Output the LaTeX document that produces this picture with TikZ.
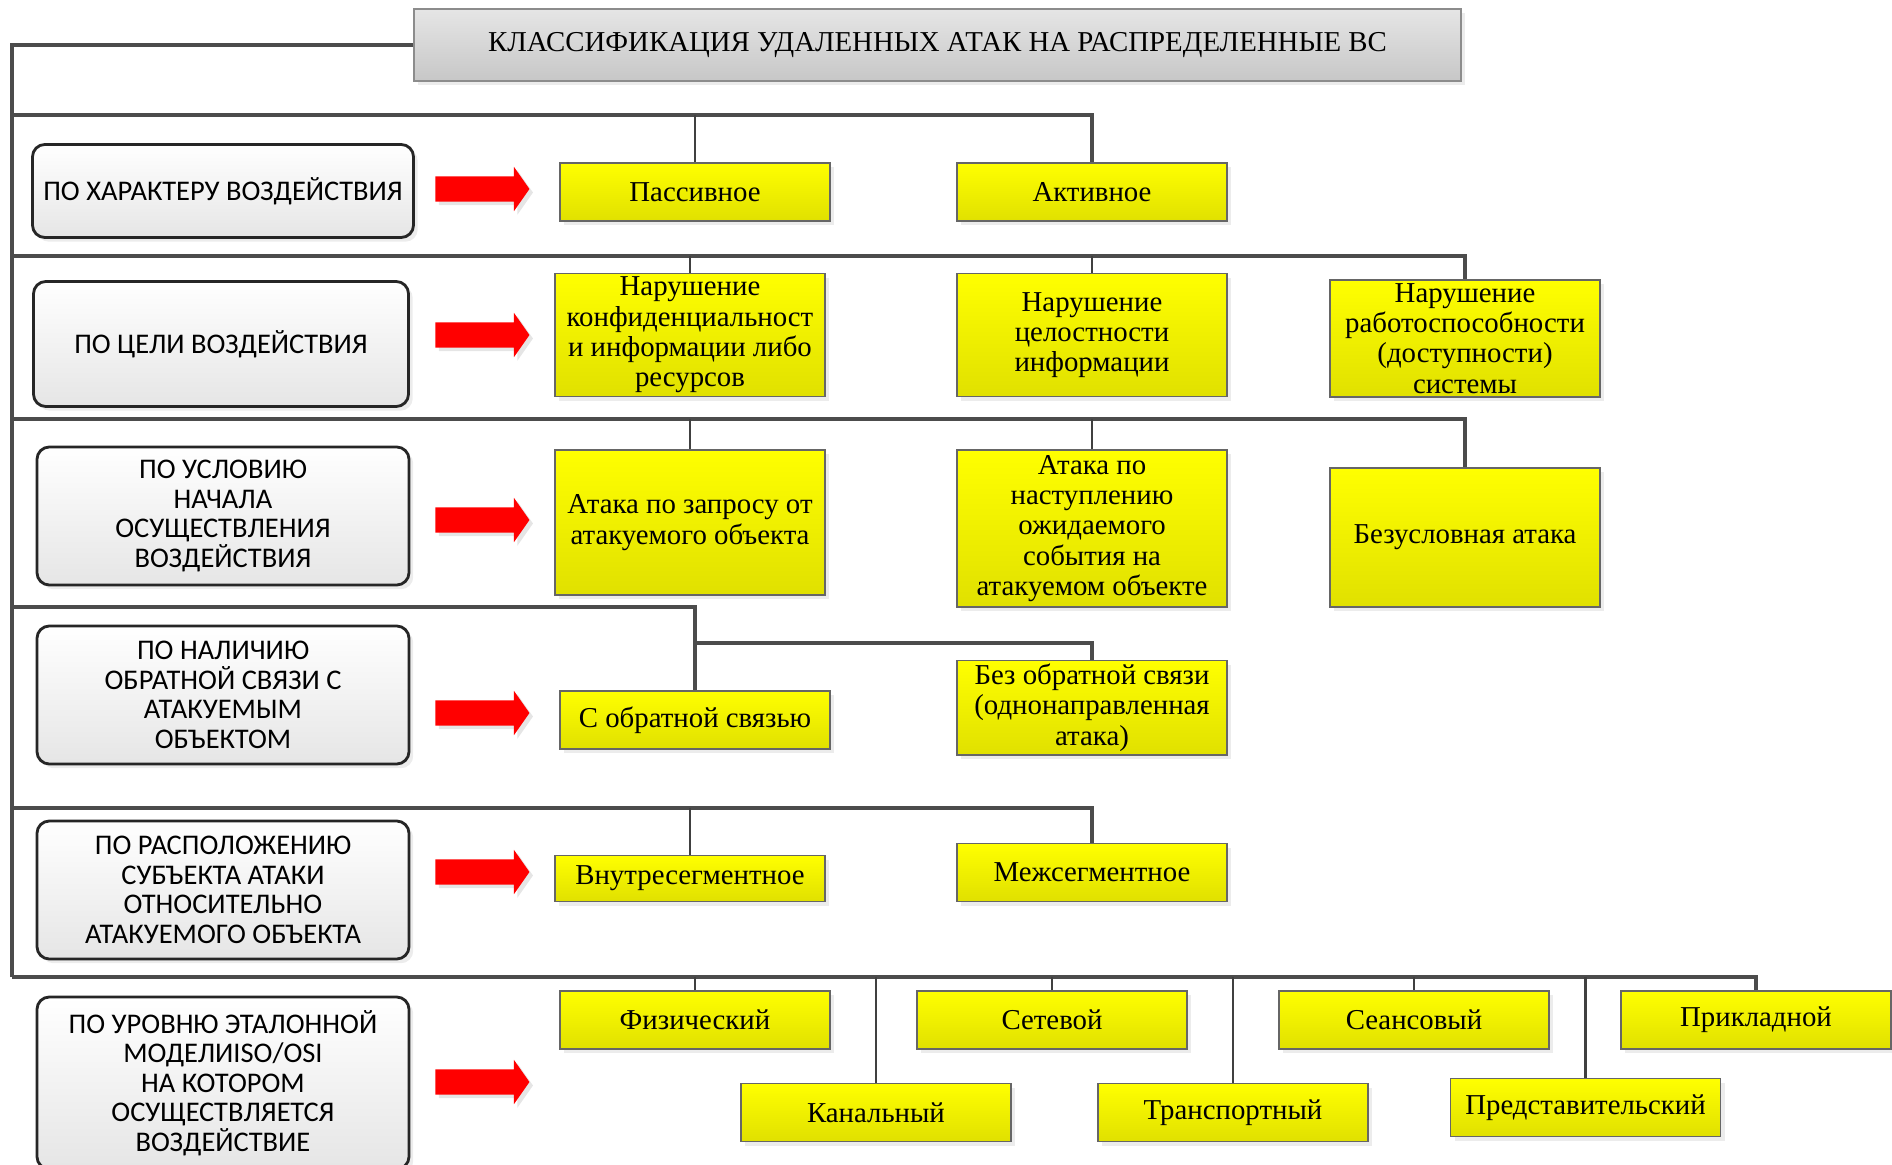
\documentclass[tikz,border=0pt]{standalone}
\usepackage{fontspec}
\setmainfont{Liberation Serif}
\newfontfamily\karlito{Carlito}
\usetikzlibrary{shapes.arrows,shadows,positioning}
\tikzset{
  zagolovok/.style={draw=black!45,top color=black!10,bottom color=black!22,
                    minimum width=10.47cm,minimum height=0.72cm,inner sep=2pt,
                    font=\fontsize{8.2}{9.6}\selectfont,
                    drop shadow={shadow xshift=1.2pt,shadow yshift=-1.2pt,fill=black!15}},
  priznak/.style={draw=black!85,line width=0.8pt,rounded corners=3.5pt,
                  top color=white,bottom color=black!10,
                  minimum width=3.72cm,minimum height=1.38cm,align=center,inner sep=2pt,
                  font=\karlito\fontsize{8.1}{8.4}\selectfont,
                  drop shadow={shadow xshift=1.2pt,shadow yshift=-1.2pt,fill=black!15}},
  vid/.style={draw=black!60,line width=0.4pt,top color=yellow,bottom color=yellow!88!black,
              minimum width=2.70cm,minimum height=0.58cm,align=center,inner sep=1pt,
              font=\fontsize{8.2}{8.6}\selectfont,
              drop shadow={shadow xshift=1.2pt,shadow yshift=-1.2pt,fill=black!15}},
  strelka/.style={single arrow,fill=red,draw=none,minimum height=0.94cm,
                  inner xsep=0pt,inner ysep=0.12cm,single arrow head extend=0.095cm,
                  single arrow tip angle=110,
                  drop shadow={shadow xshift=1pt,shadow yshift=-1pt,fill=black!20}},
  shina/.style={draw=black!70,line width=0.9pt},
  otvod/.style={draw=black!75,line width=0.6pt},
}
\begin{document}
\begin{tikzpicture}
  \useasboundingbox (0,0) rectangle (18.92,-11.64);
  % zagolovok
  \node[zagolovok] (klass) at (9.375,-0.45) {КЛАССИФИКАЦИЯ УДАЛЕННЫХ АТАК НА РАСПРЕДЕЛЕННЫЕ ВС};
  % priznaki klassifikacii
  \node[priznak,minimum width=3.81cm,minimum height=0.93cm] (p1) at (2.23,-1.91) {ПО ХАРАКТЕРУ ВОЗДЕЙСТВИЯ};
  \node[priznak,minimum width=3.75cm,minimum height=1.25cm] (p2) at (2.21,-3.44) {ПО ЦЕЛИ ВОЗДЕЙСТВИЯ};
  \node[priznak] (p3) at (2.23,-5.16) {ПО УСЛОВИЮ\\НАЧАЛА\\ОСУЩЕСТВЛЕНИЯ\\ВОЗДЕЙСТВИЯ};
  \node[priznak] (p4) at (2.23,-6.95) {ПО НАЛИЧИЮ\\ОБРАТНОЙ СВЯЗИ С\\АТАКУЕМЫМ\\ОБЪЕКТОМ};
  \node[priznak] (p5) at (2.23,-8.90) {ПО РАСПОЛОЖЕНИЮ\\СУБЪЕКТА АТАКИ\\ОТНОСИТЕЛЬНО\\АТАКУЕМОГО ОБЪЕКТА};
  \node[priznak,minimum height=1.72cm] (p6) at (2.23,-10.83) {ПО УРОВНЮ ЭТАЛОННОЙ\\МОДЕЛИISO/OSI\\НА КОТОРОМ\\ОСУЩЕСТВЛЯЕТСЯ\\ВОЗДЕЙСТВИЕ};
  % strelki
  \foreach \y [count=\i] in {1.89,3.35,5.20,7.13,8.72,10.82}
    \node[strelka] (s\i) at (4.78,-\y) {};
  % vidy atak
  \node[vid] (passiv) at (6.95,-1.92) {Пассивное};
  \node[vid] (aktiv) at (10.92,-1.92) {Активное};
  \node[vid,minimum height=1.23cm] (konf) at (6.90,-3.35) {Нарушение\\конфиденциальност\\и информации либо\\ресурсов};
  \node[vid,minimum height=1.23cm] (cel) at (10.92,-3.35) {Нарушение\\целостности\\информации};
  \node[vid,minimum height=1.17cm] (rabot) at (14.65,-3.385) {Нарушение\\работоспособности\\(доступности)\\системы};
  \node[vid,minimum height=1.45cm] (zapros) at (6.90,-5.225) {Атака по запросу от\\атакуемого объекта};
  \node[vid,minimum height=1.57cm] (nastup) at (10.92,-5.285) {Атака по\\наступлению\\ожидаемого\\события на\\атакуемом объекте};
  \node[vid,minimum height=1.39cm] (bezusl) at (14.65,-5.375) {Безусловная атака};
  \node[vid] (sobr) at (6.95,-7.20) {С обратной связью};
  \node[vid,minimum height=0.93cm] (bezobr) at (10.92,-7.077) {Без обратной связи\\(однонаправленная\\атака)};
  \node[vid,minimum height=0.46cm] (vnutr) at (6.90,-8.784) {Внутресегментное};
  \node[vid] (mezh) at (10.92,-8.724) {Межсегментное};
  \node[vid] (fiz) at (6.95,-10.20) {Физический};
  \node[vid] (setev) at (10.52,-10.20) {Сетевой};
  \node[vid] (seans) at (14.14,-10.20) {Сеансовый};
  \node[vid] (prikl) at (17.56,-10.20) {Прикладной};
  \node[vid] (kanal) at (8.76,-11.125) {Канальный};
  \node[vid] (transp) at (12.33,-11.125) {Транспортный};
  \node[vid] (pred) at (15.855,-11.077) {Представительский};
  % shiny
  \coordinate (b1) at (0.12,-1.15);
  \coordinate (b2) at (0.12,-2.56);
  \coordinate (b3) at (0.12,-4.19);
  \coordinate (b4) at (0.12,-6.07);
  \coordinate (b4a) at (sobr.north |- 0,-6.43);
  \coordinate (b5) at (0.12,-8.08);
  \coordinate (b6) at (0.12,-9.77);
  \draw[shina] (klass.west) -| (b6);
  \draw[shina] (b1) -| (aktiv.north);
  \draw[shina] (b2) -| (rabot.north);
  \draw[shina] (b3) -| (bezusl.north);
  \draw[shina] (b4) -| (sobr.north);
  \draw[shina] (b4a) -| (bezobr.north);
  \draw[shina] (b5) -| (mezh.north);
  \draw[shina] (b6) -| (prikl.north);
  \foreach \n/\b in {passiv/b1,konf/b2,cel/b2,zapros/b3,nastup/b3,vnutr/b5,
                     fiz/b6,setev/b6,seans/b6,kanal/b6,transp/b6,pred/b6}
    \draw[otvod] (\n.north) -- (\n.north |- \b);
\end{tikzpicture}
\end{document}
